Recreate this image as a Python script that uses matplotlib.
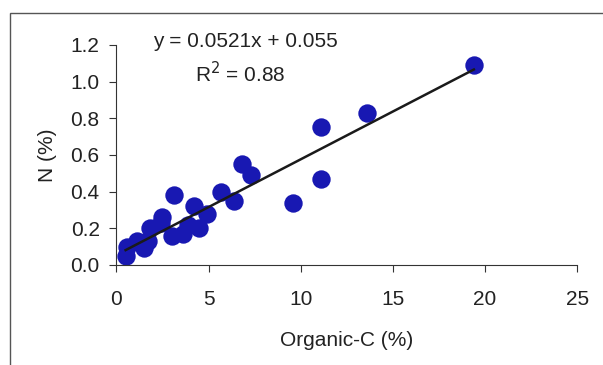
import numpy as np
import matplotlib.pyplot as plt
from matplotlib.patches import Rectangle

plt.rcParams['font.family'] = ['Liberation Sans', 'DejaVu Sans']

# Organic-C (%) vs N (%)
organic_c = [0.5, 0.6, 1.1, 1.5, 1.7, 1.8, 2.4, 2.5, 3.0, 3.1, 3.6, 3.9, 4.2, 4.5,
             4.9, 5.7, 6.4, 6.8, 7.3, 9.6, 11.1, 11.1, 13.6, 19.4]
nitrogen = [0.05, 0.10, 0.13, 0.09, 0.13, 0.20, 0.23, 0.26, 0.16, 0.38, 0.17, 0.22,
            0.32, 0.20, 0.28, 0.40, 0.35, 0.55, 0.49, 0.34, 0.47, 0.75, 0.83, 1.09]
slope, intercept = 0.0521, 0.055
x_ticks = [0, 5, 10, 15, 20, 25]
y_ticks = [0.0, 0.2, 0.4, 0.6, 0.8, 1.0, 1.2]

fig = plt.figure(figsize=(6.03, 3.65), dpi=100)
# gray frame around the chart area (runs off the right and bottom edges)
fig.patches.append(Rectangle((10 / 603, -0.1), 1.2, 1.1 - 13 / 365,
                             transform=fig.transFigure, fill=False,
                             edgecolor='#555555', linewidth=1.0))

ax = fig.add_axes([0.193, 0.274, 0.764, 0.603])
ax.scatter(organic_c, nitrogen, s=175, color='#1818b2', zorder=2, linewidths=0)
xf = np.array([min(organic_c), max(organic_c)])
ax.plot(xf, slope * xf + intercept, color='#1a1a1a', linewidth=1.8, zorder=3)

ax.set_xlim(0, 25)
ax.set_ylim(0, 1.2)
ax.set_xticks(x_ticks)
ax.set_yticks(y_ticks)
ax.set_yticklabels([f"{v:.1f}" for v in y_ticks])
ax.spines['top'].set_visible(False)
ax.spines['right'].set_visible(False)
for s in ['left', 'bottom']:
    ax.spines[s].set_color('#333333')
ax.tick_params(direction='out', length=5, color='#333333', labelsize=15,
               labelcolor='#222222')
ax.tick_params(axis='x', pad=13)
ax.tick_params(axis='y', pad=7)

ax.set_xlabel('Organic-C (%)', fontsize=15, color='#222222', labelpad=16)
ax.set_ylabel('N (%)', fontsize=15, color='#222222', labelpad=10)

ax.text(0.279, 1.014, f'y = {slope}x + {intercept}', transform=ax.transAxes,
        ha='center', va='center', fontsize=15, color='#222222')
ax.text(0.268, 0.868, r'R$^2$ = 0.88', transform=ax.transAxes,
        ha='center', va='center', fontsize=15, color='#222222')

fig.savefig('out.png', dpi=100)
